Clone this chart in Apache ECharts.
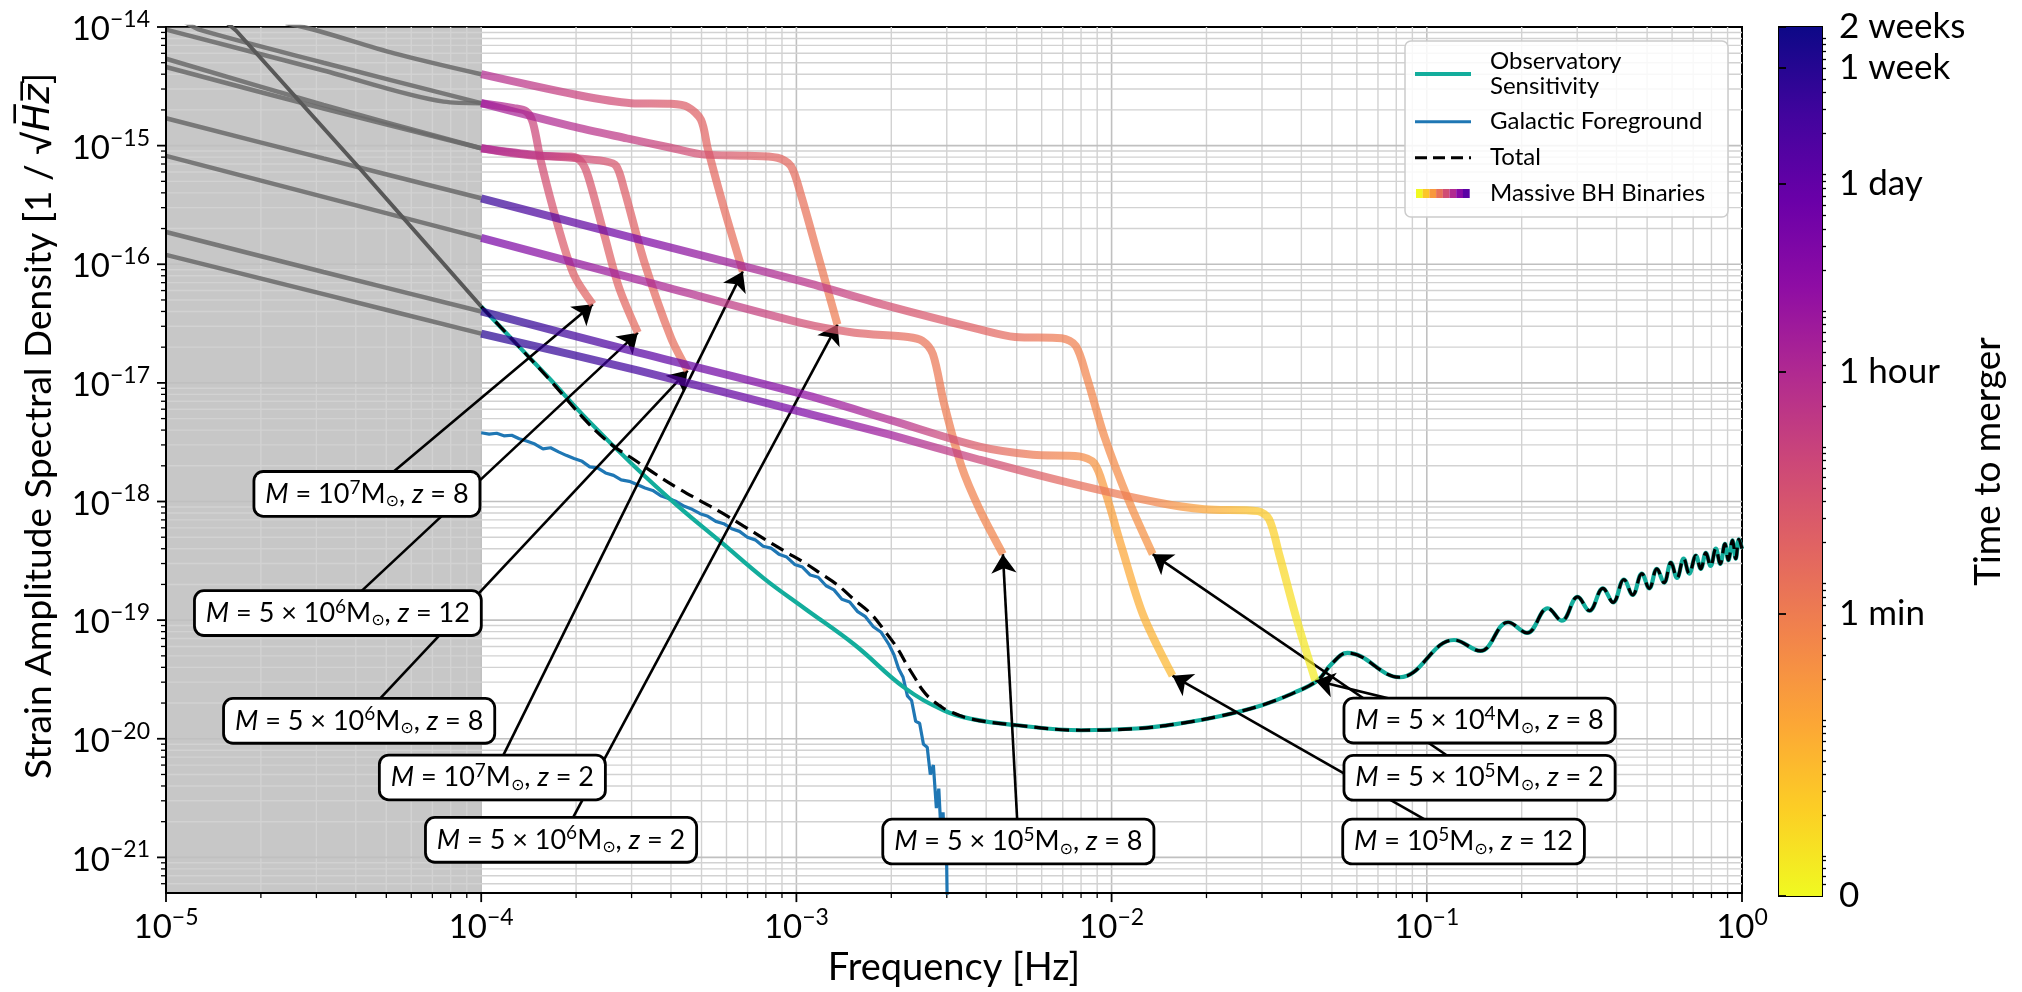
<!DOCTYPE html>
<html>
<head>
<meta charset="utf-8">
<title>Massive black hole binaries against observatory sensitivity</title>
<script src="https://cdn.jsdelivr.net/npm/echarts@6/dist/echarts.min.js"></script>
<style>
  html, body { margin: 0; padding: 0; background: #fff; }
  #chart { width: 2022px; height: 992px; }
</style>
</head>
<body>
<div id="chart"></div>
<script>
// ---------------------------------------------------------------------------
// Data: frequency [Hz], amplitude spectral density [1/sqrt(Hz)]
// ---------------------------------------------------------------------------

// Observatory sensitivity curve
const sensitivity = [
  [1.55e-5, 1.1e-14], [1.67e-5, 9.3e-15], [4.06e-5, 6.7e-16], [1.00e-4, 4.4e-17],
  [1.30e-4, 2.1e-17], [1.63e-4, 1.12e-17], [2.18e-4, 4.85e-18], [3.06e-4, 1.98e-18],
  [4.20e-4, 9.2e-19], [5.77e-4, 4.54e-19], [7.90e-4, 2.24e-19], [1.06e-3, 1.26e-19],
  [1.53e-3, 6.2e-20], [2.20e-3, 2.7e-20], [2.94e-3, 1.73e-20], [3.58e-3, 1.47e-20],
  [5.0e-3, 1.3e-20], [8.0e-3, 1.18e-20], [1.2e-2, 1.22e-20], [1.6e-2, 1.33e-20],
  [2.2e-2, 1.55e-20], [3.0e-2, 1.92e-20], [3.8e-2, 2.45e-20], [4.5e-2, 3.1e-20],
  [5.0e-2, 4.3e-20], [0.056, 5.3e-20], [0.082, 3.3e-20], [0.122, 6.8e-20],
  [0.148, 5.5e-20], [0.181, 9.6e-20], [0.208, 7.8e-20], [0.242, 1.26e-19],
  [0.268, 9.9e-20], [0.301, 1.57e-19], [0.328, 1.2e-19], [0.362, 1.85e-19],
  [0.390, 1.41e-19], [0.422, 2.2e-19], [0.450, 1.63e-19], [0.481, 2.47e-19],
  [0.508, 1.85e-19], [0.537, 2.7e-19], [0.566, 2.07e-19], [0.595, 3.05e-19],
  [0.622, 2.27e-19], [0.653, 3.3e-19], [0.680, 2.47e-19], [0.714, 3.5e-19],
  [0.740, 2.7e-19], [0.768, 3.7e-19], [0.795, 2.86e-19], [0.826, 4.0e-19],
  [0.853, 2.98e-19], [0.883, 4.4e-19], [0.905, 3.2e-19], [0.933, 4.7e-19],
  [0.955, 3.3e-19], [0.978, 4.8e-19], [1.0, 4.0e-19]
];

// Galactic white-dwarf foreground
const galacticForeground = [
  [1.00e-4, 3.80e-18], [1.06e-4, 3.70e-18], [1.12e-4, 3.76e-18], [1.18e-4, 3.58e-18],
  [1.25e-4, 3.62e-18], [1.32e-4, 3.38e-18], [1.40e-4, 3.22e-18], [1.48e-4, 3.05e-18],
  [1.57e-4, 2.78e-18], [1.66e-4, 2.84e-18], [1.76e-4, 2.62e-18], [1.86e-4, 2.45e-18],
  [1.97e-4, 2.30e-18], [2.09e-4, 2.18e-18], [2.21e-4, 1.96e-18], [2.34e-4, 1.92e-18],
  [2.48e-4, 1.74e-18], [2.63e-4, 1.66e-18], [2.78e-4, 1.52e-18], [2.95e-4, 1.48e-18],
  [3.12e-4, 1.39e-18], [3.31e-4, 1.30e-18], [3.50e-4, 1.24e-18], [3.71e-4, 1.12e-18],
  [3.93e-4, 1.06e-18], [4.16e-4, 1.00e-18], [4.41e-4, 9.1e-19], [4.67e-4, 8.6e-19],
  [4.95e-4, 7.9e-19], [5.24e-4, 7.5e-19], [5.55e-4, 6.8e-19], [5.88e-4, 6.5e-19],
  [6.23e-4, 5.9e-19], [6.60e-4, 5.6e-19], [6.99e-4, 5.0e-19], [7.40e-4, 4.75e-19],
  [7.84e-4, 4.2e-19], [8.30e-4, 4.05e-19], [8.80e-4, 3.6e-19], [9.32e-4, 3.4e-19],
  [9.87e-4, 2.95e-19], [1.045e-3, 2.8e-19], [1.107e-3, 2.4e-19], [1.173e-3, 2.3e-19],
  [1.242e-3, 1.95e-19], [1.316e-3, 1.8e-19], [1.394e-3, 1.5e-19], [1.476e-3, 1.42e-19],
  [1.564e-3, 1.18e-19], [1.656e-3, 1.07e-19], [1.754e-3, 8.8e-20], [1.858e-3, 7.9e-20],
  [1.968e-3, 6.2e-20], [2.040e-3, 5.1e-20], [2.110e-3, 3.9e-20], [2.180e-3, 3.3e-20],
  [2.250e-3, 2.3e-20], [2.320e-3, 2.1e-20], [2.390e-3, 1.4e-20], [2.460e-3, 1.35e-20],
  [2.530e-3, 9.0e-21], [2.600e-3, 8.5e-21], [2.660e-3, 5.0e-21], [2.720e-3, 6.0e-21],
  [2.780e-3, 2.6e-21], [2.830e-3, 3.8e-21], [2.880e-3, 1.5e-21], [2.920e-3, 2.4e-21],
  [2.960e-3, 9.0e-22], [2.990e-3, 1.4e-21], [3.010e-3, 4.0e-22]
];

// Total noise where the foreground contributes (joins the sensitivity curve above ~3 mHz)
const totalLow = [
  [1.00e-4, 4.4e-17], [1.30e-4, 2.1e-17], [1.63e-4, 1.1e-17], [2.18e-4, 4.6e-18],
  [2.60e-4, 3.0e-18], [3.06e-4, 2.25e-18], [3.60e-4, 1.68e-18], [4.20e-4, 1.30e-18],
  [4.90e-4, 1.03e-18], [5.77e-4, 8.1e-19], [6.80e-4, 6.2e-19], [7.90e-4, 4.85e-19],
  [9.20e-4, 3.8e-19], [1.06e-3, 3.05e-19], [1.20e-3, 2.45e-19], [1.35e-3, 1.98e-19],
  [1.52e-3, 1.5e-19], [1.73e-3, 1.12e-19], [1.90e-3, 8.2e-20], [2.09e-3, 5.8e-20],
  [2.23e-3, 4.3e-20], [2.37e-3, 3.3e-20], [2.52e-3, 2.55e-20], [2.67e-3, 2.16e-20],
  [2.85e-3, 1.9e-20], [3.02e-3, 1.73e-20]
];

// Massive black hole binary tracks: [frequency, ASD, time to merger in s]
// (time is only used for the part above 0.1 mHz, where the track is coloured)
const bh_1e7_z2 = [
  [2.4e-5, 1.08e-14, null], [3.03e-5, 9.3e-15, null], [5.3e-5, 6.0e-15, null],
  [1.0e-4, 4.0e-15, 3400], [2.02e-4, 2.67e-15, 1000], [2.99e-4, 2.28e-15, 500],
  [4.0e-4, 2.25e-15, 300], [4.52e-4, 2.12e-15, 250], [4.98e-4, 1.65e-15, 200],
  [5.24e-4, 9.3e-16, 170], [5.9e-4, 2.93e-16, 130], [6.76e-4, 8.7e-17, 100]
];
const bh_1e7_z8 = [
  [1.0e-5, 9.5e-15, null], [3.16e-5, 4.3e-15, null], [7.6e-5, 2.35e-15, null],
  [1.0e-4, 2.28e-15, 6000], [1.27e-4, 2.07e-15, 2500], [1.39e-4, 1.94e-15, 1500],
  [1.46e-4, 1.55e-15, 900], [1.55e-4, 7.2e-16, 600], [1.75e-4, 2.13e-16, 350],
  [1.97e-4, 8.1e-17, 230], [2.26e-4, 4.6e-17, 170]
];
const bh_5e6_z2 = [
  [1.15e-5, 1.1e-14, null], [1.29e-5, 9.4e-15, null], [3.16e-5, 5.0e-15, null],
  [1.0e-4, 2.28e-15, 7000], [1.93e-4, 1.46e-15, 3000], [2.9e-4, 1.15e-15, 1500],
  [4.0e-4, 9.6e-16, 800], [5.1e-4, 8.4e-16, 450], [7.0e-4, 8.2e-16, 250],
  [8.7e-4, 7.9e-16, 180], [9.6e-4, 6.75e-16, 140], [1.035e-3, 3.8e-16, 110],
  [1.17e-3, 1.2e-16, 80], [1.35e-3, 3.1e-17, 60]
];
const bh_5e6_z12 = [
  [1.0e-5, 5.4e-15, null], [3.16e-5, 2.2e-15, null],
  [1.0e-4, 9.5e-16, 3400], [1.51e-4, 8.2e-16, 1400], [1.93e-4, 8.1e-16, 700],
  [2.07e-4, 7.4e-16, 500], [2.18e-4, 5.6e-16, 380], [2.46e-4, 1.75e-16, 250],
  [2.74e-4, 6.3e-17, 180], [3.14e-4, 2.65e-17, 130]
];
const bh_5e6_z8 = [
  [1.0e-5, 4.6e-15, null], [3.16e-5, 2.05e-15, null],
  [1.0e-4, 9.5e-16, 3800], [1.5e-4, 8.3e-16, 1700], [1.93e-4, 7.9e-16, 900],
  [2.46e-4, 7.4e-16, 450], [2.68e-4, 6.75e-16, 330], [2.84e-4, 4.3e-16, 260],
  [3.29e-4, 1.05e-16, 170], [4.0e-4, 2.4e-17, 120], [4.52e-4, 1.27e-17, 100]
];
const bh_5e5_z2 = [
  [1.0e-5, 1.7e-15, null], [3.16e-5, 7.8e-16, null],
  [1.0e-4, 3.6e-16, 4e5], [3.16e-4, 1.62e-16, 3.5e4], [1.035e-3, 7.2e-17, 2500],
  [1.99e-3, 4.4e-17, 500], [3.81e-3, 2.83e-17, 200], [4.94e-3, 2.44e-17, 120],
  [6.95e-3, 2.38e-17, 60], [7.7e-3, 2.05e-17, 50], [8.34e-3, 1.12e-17, 42],
  [9.5e-3, 3.5e-18, 35], [1.14e-2, 9.8e-19, 28], [1.35e-2, 3.6e-19, 22]
];
const bh_5e5_z8 = [
  [1.0e-5, 8.2e-16, null], [3.16e-5, 3.7e-16, null],
  [1.0e-4, 1.67e-16, 4e4], [3.16e-4, 7.4e-17, 6000], [1.035e-3, 3.2e-17, 600],
  [1.53e-3, 2.65e-17, 250], [2.26e-3, 2.44e-17, 120], [2.51e-3, 2.26e-17, 95],
  [2.71e-3, 1.75e-17, 80], [2.94e-3, 6.7e-18, 65], [3.34e-3, 1.98e-18, 52],
  [3.81e-3, 8.6e-19, 45], [4.52e-3, 3.6e-19, 40]
];
const bh_1e5_z12 = [
  [1.0e-5, 1.87e-16, null], [3.16e-5, 8.6e-17, null],
  [1.0e-4, 4.0e-17, 6e5], [3.16e-4, 1.8e-17, 1.3e5], [1.035e-3, 8.1e-18, 1.5e4],
  [1.99e-3, 4.85e-18, 3400], [3.81e-3, 2.9e-18, 250], [5.62e-3, 2.48e-18, 70],
  [7.9e-3, 2.4e-18, 35], [8.8e-3, 2.11e-18, 22], [9.5e-3, 1.26e-18, 15],
  [1.08e-2, 4.0e-19, 10], [1.26e-2, 1.1e-19, 7], [1.56e-2, 3.4e-20, 5]
];
const bh_5e4_z8 = [
  [1.0e-5, 1.2e-16, null], [3.16e-5, 5.6e-17, null],
  [1.0e-4, 2.6e-17, 6e5], [3.16e-4, 1.27e-17, 2.5e5], [1.035e-3, 5.7e-18, 3e4],
  [1.99e-3, 3.64e-18, 7000], [3.81e-3, 2.25e-18, 800], [7.3e-3, 1.44e-18, 130],
  [1.4e-2, 9.8e-19, 40], [1.97e-2, 8.6e-19, 10], [2.91e-2, 8.3e-19, 3],
  [3.16e-2, 7.1e-19, 2.4], [3.41e-2, 3.5e-19, 1.8], [3.88e-2, 9.8e-20, 1.1],
  [4.43e-2, 3.1e-20, 0.6]
];

// Source parameters for each track (same order as the list below)
const bhMass     = [1e7, 1e7, 5e6, 5e6, 5e6, 5e5, 5e5, 1e5, 5e4];
const bhRedshift = [2, 8, 2, 12, 8, 2, 8, 12, 8];

// Colour-bar ticks (time to merger, seconds)
const cbarTickTimes = [0, 60, 3600, 86400, 604800, 1209600];
const cbarTickText  = ['0', '1 min', '1 hour', '1 day', '1 week', '2 weeks'];

// ---------------------------------------------------------------------------
// Layout
// ---------------------------------------------------------------------------
const tracks = [bh_1e7_z2, bh_1e7_z8, bh_5e6_z2, bh_5e6_z12, bh_5e6_z8,
                bh_5e5_z2, bh_5e5_z8, bh_1e5_z12, bh_5e4_z8];

// Where each annotation box sits (data coordinates of the box centre)
const labelAnchors = [
  [1.085e-4, 4.72e-21], [4.34e-5, 1.159e-18], [1.792e-4, 1.406e-21],
  [3.51e-5, 1.146e-19], [4.10e-5, 1.416e-20], [0.147, 4.69e-21],
  [5.06e-3, 1.36e-21], [0.1308, 1.36e-21], [0.147, 1.422e-20]
];

const FONT = 'Lato';
const F_SPLIT = 1e-4;      // below this frequency the band is shaded and tracks are grey

// Colour scale: linear below 1 s, logarithmic above
const U_LIN = 0.29;
function tScale(t) { return t <= 1 ? U_LIN * t : U_LIN + Math.log10(t); }
const U_MAX = tScale(cbarTickTimes[cbarTickTimes.length - 1]);

const PLASMA = ['#0d0887', '#41049d', '#6a00a8', '#8f0da4', '#b12a90', '#cc4778',
                '#e16462', '#f2844b', '#fca636', '#fcce25', '#f0f921'];
function hexRgb(h) { return [1, 3, 5].map(i => parseInt(h.substr(i, 2), 16)); }
function plasma(x) {
  x = Math.max(0, Math.min(1, x));
  const s = x * (PLASMA.length - 1), i = Math.min(PLASMA.length - 2, Math.floor(s)), f = s - i;
  const a = hexRgb(PLASMA[i]), b = hexRgb(PLASMA[i + 1]);
  const c = a.map((v, k) => Math.round(v + (b[k] - v) * f));
  return 'rgb(' + c.join(',') + ')';
}
// reversed map: 0 s -> yellow, two weeks -> dark blue
function timeColour(t) { return plasma(1 - tScale(t) / U_MAX); }

// ---------------------------------------------------------------------------
// Axis helpers
// ---------------------------------------------------------------------------
const powRich = {
  b: { fontSize: 33, fontFamily: FONT, color: '#000', lineHeight: 38, verticalAlign: 'bottom' },
  s: { fontSize: 23, fontFamily: FONT, color: '#000', lineHeight: 24, verticalAlign: 'top' }
};
function powLabel(v) {
  const n = Math.round(Math.log10(v));
  return '{b|10}{s|' + (n < 0 ? '\u2212' : '') + Math.abs(n) + '}';
}

// Grid lines and ticks for both log axes: [x, y, kind]; kind 0/1 = x major/minor, 2/3 = y major/minor
const gridItems = [];
for (let e = -5; e <= 0; e++) {
  gridItems.push([Math.pow(10, e), 1e-18, 0]);
  if (e < 0) for (let k = 2; k <= 9; k++) gridItems.push([k * Math.pow(10, e), 1e-18, 1]);
}
for (let e = -22; e <= -14; e++) {
  const p = Math.pow(10, e);
  if (e >= -21) gridItems.push([1e-3, p, 2]);
  if (e < -14) for (let k = 2; k <= 9; k++) {
    const v = k * p;
    if (v > 5.01e-22 && v < 1e-14) gridItems.push([1e-3, v, 3]);
  }
}
function renderGrid(params, api) {
  const cs = params.coordSys;
  const kind = api.value(2);
  const major = kind === 0 || kind === 2;
  const len = major ? 9 : 5;
  const gStyle = major ? { stroke: '#c0c0c0', lineWidth: 1.6 } : { stroke: '#d2d2d2', lineWidth: 1.4 };
  const tStyle = { stroke: '#000', lineWidth: major ? 1.8 : 1.3 };
  const ch = [];
  if (kind < 2) {
    const x = api.coord([api.value(0), 1e-18])[0];
    if (x > cs.x + 2 && x < cs.x + cs.width - 2)
      ch.push({ type: 'line', shape: { x1: x, y1: cs.y, x2: x, y2: cs.y + cs.height }, style: gStyle });
    ch.push({ type: 'line', shape: { x1: x, y1: cs.y + cs.height, x2: x, y2: cs.y + cs.height + len }, style: tStyle });
  } else {
    const y = api.coord([1e-3, api.value(1)])[1];
    if (y > cs.y + 2 && y < cs.y + cs.height - 2)
      ch.push({ type: 'line', shape: { x1: cs.x, y1: y, x2: cs.x + cs.width, y2: y }, style: gStyle });
    ch.push({ type: 'line', shape: { x1: cs.x - len, y1: y, x2: cs.x, y2: y }, style: tStyle });
  }
  return { type: 'group', children: ch };
}

// Colour-bar tick positions
const cbarMajorU = cbarTickTimes.map(tScale);
const cbarMinorU = [];
[0.3, 0.5, 0.7, 0.9].forEach(t => cbarMinorU.push(tScale(t)));
for (let n = 0; n <= 6; n++) for (let k = 1; k <= 9; k++) {
  const t = k * Math.pow(10, n);
  if (t < cbarTickTimes[cbarTickTimes.length - 1] && cbarTickTimes.indexOf(t) < 0) cbarMinorU.push(tScale(t));
}
function cbarLabel(v) {
  let best = 0;
  cbarMajorU.forEach((u, i) => { if (Math.abs(u - v) < Math.abs(cbarMajorU[best] - v)) best = i; });
  return cbarTickText[best];
}

// Annotation text, e.g. "M = 5 x 10^6 Msun, z = 12"
function massLabel(i) {
  const m = bhMass[i];
  const e = Math.floor(Math.log10(m) + 1e-9);
  const c = Math.round(m / Math.pow(10, e));
  const coef = c === 1 ? '' : c + ' \u00d7 ';
  return '{it|M}{n| = ' + coef + '10}{sup|' + e + '}{n|M}{sub|\u2299}{n|, }{it|z}{n| = ' + bhRedshift[i] + '}';
}

// ---------------------------------------------------------------------------
// Series
// ---------------------------------------------------------------------------
const series = [];

series.push({
  id: 'gridlines', type: 'custom', xAxisIndex: 0, yAxisIndex: 0, z: 1, silent: true,
  dimensions: ['x', 'y', 'kind'], encode: { x: 0, y: 1 },
  data: gridItems, renderItem: renderGrid
});

series.push({
  id: 'lowband', type: 'line', xAxisIndex: 0, yAxisIndex: 0, z: 2, silent: true,
  data: [], showSymbol: false,
  markArea: {
    silent: true,
    itemStyle: { color: 'rgba(128,128,128,0.44)' },
    data: [[{ xAxis: 1e-5 }, { xAxis: F_SPLIT }]]
  }
});

// grey parts of the tracks below 0.1 mHz
tracks.forEach((pts, i) => {
  series.push({
    id: 'bhlow' + i, type: 'line', xAxisIndex: 0, yAxisIndex: 0, z: 3, silent: true,
    showSymbol: false, smooth: 0.3,
    data: pts.filter(p => p[0] <= F_SPLIT).map(p => [p[0], p[1]]),
    lineStyle: { color: '#6a6a6a', width: 4.5, opacity: 0.85 }
  });
});

series.push({
  id: 'senslow', type: 'line', xAxisIndex: 0, yAxisIndex: 0, z: 3, silent: true,
  showSymbol: false,
  data: sensitivity.filter(p => p[0] <= F_SPLIT),
  lineStyle: { color: '#585858', width: 4 }
});

series.push({
  id: 'galactic', name: 'Galactic Foreground', type: 'line', xAxisIndex: 0, yAxisIndex: 0, z: 4,
  silent: true, showSymbol: false,
  data: galacticForeground,
  lineStyle: { color: '#1f77b4', width: 3.2 }
});

series.push({
  id: 'sens', name: 'Observatory Sensitivity', type: 'line', xAxisIndex: 0, yAxisIndex: 0, z: 4,
  silent: true, showSymbol: false, smooth: 0.4,
  data: sensitivity.filter(p => p[0] >= F_SPLIT),
  lineStyle: { color: '#13ad9c', width: 4.2 }
});

const total = totalLow.concat(sensitivity.filter(p => p[0] > totalLow[totalLow.length - 1][0]));
series.push({
  id: 'total', name: 'Total', type: 'line', xAxisIndex: 0, yAxisIndex: 0, z: 5,
  silent: true, showSymbol: false, smooth: 0.4,
  data: total,
  lineStyle: { color: '#000', width: 3.2, type: [14, 7] }
});

tracks.forEach((pts, i) => {
  series.push({
    id: 'bh' + i, type: 'line', xAxisIndex: 0, yAxisIndex: 0, z: 6, silent: true,
    showSymbol: false, smooth: 0.3,
    data: pts.filter(p => p[0] >= F_SPLIT).map(p => [p[0], p[1]]),
    lineStyle: { color: '#cc4778', width: 8, opacity: 0.72, cap: 'butt' }
  });
});

series.push({
  id: 'arrows', type: 'line', xAxisIndex: 0, yAxisIndex: 0, z: 7, silent: true, data: [],
  markLine: {
    silent: true, symbol: ['none', 'arrow'], symbolSize: 19,
    label: { show: false },
    lineStyle: { color: '#000', width: 2.6, type: 'solid', opacity: 1 },
    data: tracks.map((pts, i) => {
      const tip = pts[pts.length - 1];
      return [{ coord: labelAnchors[i] }, { coord: [tip[0], tip[1]] }];
    })
  }
});

series.push({
  id: 'labels', type: 'scatter', xAxisIndex: 0, yAxisIndex: 0, z: 8, silent: true,
  symbolSize: 1, itemStyle: { color: 'rgba(0,0,0,0)', opacity: 1 },
  data: labelAnchors.map(a => ({ value: a })),
  label: {
    show: true, position: 'inside', opacity: 1,
    formatter: p => massLabel(p.dataIndex),
    backgroundColor: '#ffffff', borderColor: '#000', borderWidth: 2.8, borderRadius: 8,
    padding: [5, 10, 5, 10],
    rich: {
      it:  { fontSize: 27, fontFamily: FONT, fontStyle: 'italic', color: '#000', lineHeight: 32 },
      n:   { fontSize: 27, fontFamily: FONT, color: '#000', lineHeight: 32 },
      sup: { fontSize: 19, fontFamily: FONT, color: '#000', lineHeight: 20, verticalAlign: 'top' },
      sub: { fontSize: 16, fontFamily: 'DejaVu Sans', color: '#000', lineHeight: 18, verticalAlign: 'bottom' }
    }
  }
});

// colour bar body
series.push({
  id: 'cbar', type: 'custom', xAxisIndex: 1, yAxisIndex: 1, z: 2, silent: true,
  data: [[0, 0]],
  renderItem: function (params, api) {
    const p0 = api.coord([0, 0]), p1 = api.coord([1, U_MAX]);
    const stops = PLASMA.map((c, i) => ({ offset: i / (PLASMA.length - 1), color: PLASMA[PLASMA.length - 1 - i] }));
    return {
      type: 'rect',
      shape: { x: p0[0], y: p1[1], width: p1[0] - p0[0], height: p0[1] - p1[1] },
      style: { fill: new echarts.graphic.LinearGradient(0, 1, 0, 0, stops) }
    };
  }
});

// ---------------------------------------------------------------------------
// Legend (drawn as graphics)
// ---------------------------------------------------------------------------
const LG = { x: 1405, y: 41, w: 323, h: 176 };
const legendText = { fontSize: 24, fontFamily: FONT, fill: '#000', verticalAlign: 'middle', align: 'left' };
const legendGraphic = [
  { type: 'rect', z: 50, shape: { x: LG.x, y: LG.y, width: LG.w, height: LG.h, r: 6 },
    style: { fill: 'rgba(255,255,255,0.85)', stroke: '#cccccc', lineWidth: 1.5 } },
  { type: 'line', z: 51, shape: { x1: 1415, y1: 74, x2: 1471, y2: 74 }, style: { stroke: '#13ad9c', lineWidth: 4.2 } },
  { type: 'text', z: 51, x: 1490, y: 61.7, style: Object.assign({ text: 'Observatory' }, legendText) },
  { type: 'text', z: 51, x: 1490, y: 86.7, style: Object.assign({ text: 'Sensitivity' }, legendText) },
  { type: 'line', z: 51, shape: { x1: 1415, y1: 121.7, x2: 1471, y2: 121.7 }, style: { stroke: '#1f77b4', lineWidth: 3 } },
  { type: 'text', z: 51, x: 1490, y: 121.7, style: Object.assign({ text: 'Galactic Foreground' }, legendText) },
  { type: 'line', z: 51, shape: { x1: 1415, y1: 157.7, x2: 1471, y2: 157.7 }, style: { stroke: '#000', lineWidth: 3, lineDash: [12, 6] } },
  { type: 'text', z: 51, x: 1490, y: 157.7, style: Object.assign({ text: 'Total' }, legendText) },
  { type: 'text', z: 51, x: 1490, y: 193.3, style: Object.assign({ text: 'Massive BH Binaries' }, legendText) }
];
for (let i = 0; i < 8; i++) {
  legendGraphic.push({
    type: 'rect', z: 51,
    shape: { x: 1416 + i * 6.7, y: 189, width: 6.8, height: 9 },
    style: { fill: plasma(1 - i * 0.12) }
  });
}

// ---------------------------------------------------------------------------
// Chart
// ---------------------------------------------------------------------------
const chart = echarts.init(document.getElementById('chart'), null, { renderer: 'canvas', width: 2022, height: 992 });

chart.setOption({
  animation: false,
  backgroundColor: '#ffffff',
  textStyle: { fontFamily: FONT },
  grid: [
    { left: 166, right: 280, top: 27, bottom: 96, show: true, borderColor: '#000', borderWidth: 2, backgroundColor: 'transparent' },
    { left: 1779, right: 200, top: 27, bottom: 96, show: true, borderColor: '#000', borderWidth: 2, backgroundColor: 'transparent' }
  ],
  xAxis: [
    {
      gridIndex: 0, type: 'log', logBase: 10, min: 1e-5, max: 1, z: 10,
      axisLine: { show: true, onZero: false, lineStyle: { color: '#000', width: 2 } },
      axisTick: { show: false }, splitLine: { show: false },
      axisLabel: { margin: 13, formatter: powLabel, rich: powRich, color: '#000' },
      name: 'Frequency [Hz]', nameLocation: 'middle', nameGap: 34,
      nameTextStyle: { fontSize: 38, fontFamily: FONT, color: '#000' }
    },
    { gridIndex: 1, type: 'value', min: 0, max: 1, show: false }
  ],
  yAxis: [
    {
      gridIndex: 0, type: 'log', logBase: 10, min: 5e-22, max: 1e-14, z: 10,
      axisLine: { show: true, onZero: false, lineStyle: { color: '#000', width: 2 } },
      axisTick: { show: false }, splitLine: { show: false },
      axisLabel: { margin: 16, showMinLabel: false, formatter: powLabel, rich: powRich, color: '#000' },
      name: 'Strain Amplitude Spectral Density [1 / \u221a{i|H\u0305z\u0305}]',
      nameLocation: 'middle', nameGap: 108, nameRotate: 90,
      nameTextStyle: {
        fontSize: 37, fontFamily: FONT, color: '#000', padding: [0, 0, 0, 68],
        rich: { i: { fontSize: 37, fontFamily: 'DejaVu Sans', fontStyle: 'italic', color: '#000' } }
      }
    },
    {
      gridIndex: 1, type: 'value', min: 0, max: U_MAX, position: 'right', z: 10,
      axisLine: { show: false }, splitLine: { show: false },
      axisTick: { show: true, customValues: cbarMajorU, length: 7, lineStyle: { color: '#000', width: 1.8 } },
      axisLabel: { show: true, customValues: cbarMajorU, formatter: cbarLabel, margin: 17, fontSize: 35, fontFamily: FONT, color: '#000' },
      name: 'Time to merger', nameLocation: 'middle', nameGap: 134, nameRotate: 90,
      nameTextStyle: { fontSize: 37, fontFamily: FONT, color: '#000' }
    },
    {
      gridIndex: 1, type: 'value', min: 0, max: U_MAX, position: 'right', z: 10,
      axisLine: { show: false }, splitLine: { show: false },
      axisTick: { show: true, customValues: cbarMinorU, length: 4, lineStyle: { color: '#000', width: 1.3 } },
      axisLabel: { show: false }
    }
  ],
  graphic: legendGraphic,
  series: series
});

// Colour each track along its length by time to merger
function applyTrackColours() {
  const upd = tracks.map((pts, i) => {
    const col = pts.filter(p => p[0] >= F_SPLIT);
    const px = col.map(p => chart.convertToPixel({ gridIndex: 0 }, [p[0], p[1]]));
    const a = px[0], b = px[px.length - 1];
    const dx = b[0] - a[0], dy = b[1] - a[1], L2 = dx * dx + dy * dy;
    let last = 0;
    const stops = col.map((p, k) => {
      let o = ((px[k][0] - a[0]) * dx + (px[k][1] - a[1]) * dy) / L2;
      o = Math.min(1, Math.max(last, o));
      last = o;
      return { offset: o, color: timeColour(p[2]) };
    });
    return { id: 'bh' + i, lineStyle: { color: new echarts.graphic.LinearGradient(a[0], a[1], b[0], b[1], stops, true) } };
  });
  chart.setOption({ series: upd });
}
applyTrackColours();
</script>
</body>
</html>
